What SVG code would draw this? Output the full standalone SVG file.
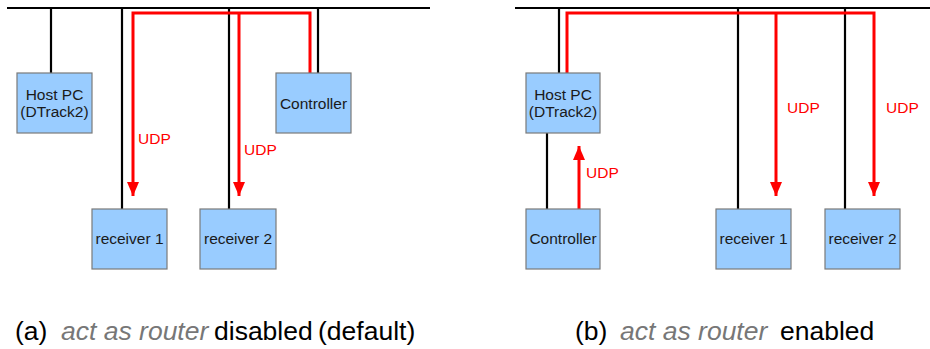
<svg xmlns="http://www.w3.org/2000/svg" width="930" height="349" viewBox="0 0 930 349">
<style>
.box{fill:#99ccff;stroke:#7a7a7a;stroke-width:1.2}
.lbl{font-family:"Liberation Sans",Arial,sans-serif;font-size:15.5px;fill:#1a1a1a;text-anchor:middle}
.udp{font-family:"Liberation Sans",Arial,sans-serif;font-size:15.5px;fill:#ff0000}
.blk{stroke:#000;stroke-width:2.2;fill:none}
.red{stroke:#ff0000;stroke-width:3;fill:none}
.cap{font-family:"Liberation Sans",Arial,sans-serif;font-size:26.5px;fill:#000}
.it{font-style:italic;fill:#777}
</style>
<defs>
<marker id="ah" markerUnits="userSpaceOnUse" markerWidth="14" markerHeight="14" viewBox="0 0 14 14" refX="14" refY="7" orient="auto">
<path d="M0,1 L14,7 L0,13 Z" fill="#ff0000"/>
</marker>
</defs>
<g id="connectors">
<line class="blk" x1="7" y1="8" x2="430" y2="8"/>
<line class="blk" x1="51" y1="8" x2="51" y2="73"/>
<line class="blk" x1="122" y1="8" x2="122" y2="209"/>
<line class="blk" x1="229" y1="8" x2="229" y2="209"/>
<line class="blk" x1="318" y1="8" x2="318" y2="73"/>
<path class="red" d="M310,73 V13 H133 V196" marker-end="url(#ah)"/>
<path class="red" d="M239,13 V196" marker-end="url(#ah)"/>
<line class="blk" x1="515" y1="8" x2="930" y2="8"/>
<line class="blk" x1="559" y1="8" x2="559" y2="73"/>
<line class="blk" x1="547" y1="133" x2="547" y2="209"/>
<line class="blk" x1="738" y1="8" x2="738" y2="209"/>
<line class="blk" x1="845" y1="8" x2="845" y2="209"/>
<path class="red" d="M567,73 V13 H874 V196" marker-end="url(#ah)"/>
<path class="red" d="M776,13 V196" marker-end="url(#ah)"/>
<path class="red" d="M579,209 V146" marker-end="url(#ah)"/>
<text class="udp" x="138" y="143.5">UDP</text>
<text class="udp" x="244" y="155">UDP</text>
<text class="udp" x="586" y="178">UDP</text>
<text class="udp" x="787" y="113">UDP</text>
<text class="udp" x="886" y="113">UDP</text>
</g>
<g id="a-host">
<rect class="box" x="17" y="73" width="75" height="60"/>
<text class="lbl" x="54.5" y="100">Host PC</text>
<text class="lbl" x="54.5" y="117">(DTrack2)</text>
</g>
<g id="a-receiver1">
<rect class="box" x="92" y="209" width="75" height="60"/>
<text class="lbl" x="129.5" y="244">receiver 1</text>
</g>
<g id="a-receiver2">
<rect class="box" x="200" y="209" width="76" height="60"/>
<text class="lbl" x="238" y="244">receiver 2</text>
</g>
<g id="a-controller">
<rect class="box" x="276" y="73" width="75" height="60"/>
<text class="lbl" x="313.5" y="108.5">Controller</text>
</g>
<g id="b-host">
<rect class="box" x="526" y="73" width="74" height="60"/>
<text class="lbl" x="563" y="100">Host PC</text>
<text class="lbl" x="563" y="117">(DTrack2)</text>
</g>
<g id="b-controller">
<rect class="box" x="526" y="209" width="74" height="60"/>
<text class="lbl" x="563" y="244">Controller</text>
</g>
<g id="b-receiver1">
<rect class="box" x="716" y="209" width="75" height="60"/>
<text class="lbl" x="753.5" y="244">receiver 1</text>
</g>
<g id="b-receiver2">
<rect class="box" x="825" y="209" width="75" height="60"/>
<text class="lbl" x="862.5" y="244">receiver 2</text>
</g>
<g id="captions">
<text class="cap" y="340"><tspan x="15">(a)</tspan><tspan class="it" x="61">act as router</tspan><tspan x="214">disabled</tspan><tspan x="318">(default)</tspan></text>
<text class="cap" y="340"><tspan x="575">(b)</tspan><tspan class="it" x="620">act as router</tspan><tspan x="780">enabled</tspan></text>
</g>
</svg>
